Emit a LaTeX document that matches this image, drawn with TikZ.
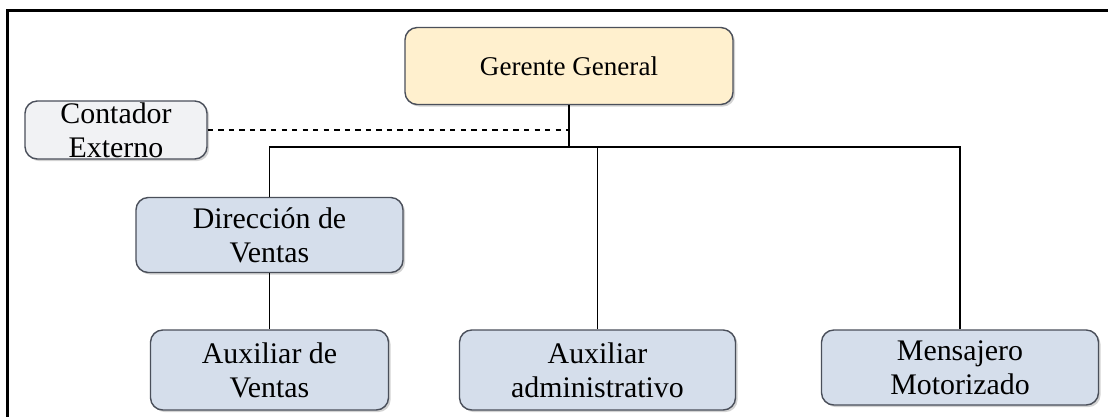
\documentclass[tikz,border=0pt]{standalone}
\usepackage{fontspec}
\setmainfont{Liberation Serif}
\usetikzlibrary{shadows}

\definecolor{jefe}{HTML}{FFF0CE}
\definecolor{cargo}{HTML}{D5DEEB}
\definecolor{externo}{HTML}{F1F2F4}
\definecolor{borde}{HTML}{4A4F5A}

\tikzset{
  caja/.style={draw=borde, line width=0.8pt, rounded corners=7pt, align=center,
    inner sep=0pt, font=\fontsize{17}{19.5}\selectfont,
    drop shadow={shadow xshift=1.2pt, shadow yshift=-1.2pt, opacity=0.35}},
  linea/.style={line width=0.9pt}
}

\begin{document}
\begin{tikzpicture}
        \useasboundingbox (0,0) rectangle (22.16,-8.34);
        \draw[line width=1.3pt] (0.15,-8.4) -- (0.15,-0.21) -- (22.3,-0.21);

        \node[caja, fill=jefe, minimum width=6.56cm, minimum height=1.54cm,
              font=\fontsize{15.4}{17}\selectfont] (gg) at (11.38, -1.32) {Gerente General};
        \node[caja, fill=externo, minimum width=3.64cm, minimum height=1.16cm] (ce) at (2.32, -2.6) {Contador\\Externo};
        \node[caja, fill=cargo, minimum width=5.34cm, minimum height=1.5cm] (dv) at (5.39, -4.7) {Dirección de\\Ventas};
        \node[caja, fill=cargo, minimum width=4.76cm, minimum height=1.6cm] (av) at (5.39, -7.4) {Auxiliar de\\Ventas};
        \node[caja, fill=cargo, minimum width=5.52cm, minimum height=1.6cm] (aa) at (11.95, -7.4) {Auxiliar\\administrativo};
        \node[caja, fill=cargo, minimum width=5.54cm, minimum height=1.5cm] (mm) at (19.2, -7.35) {Mensajero\\Motorizado};

        \coordinate (bus) at (11.38, -2.94);

        \draw[linea] (gg) -- (bus);
        \draw[linea] (dv) |- (bus) -| (mm);
        \draw[linea] (aa) -- (aa |- bus);
        \draw[linea] (dv) -- (av);
        \draw[linea, dashed] (ce) -- (ce -| gg);
    \end{tikzpicture}
\end{document}
